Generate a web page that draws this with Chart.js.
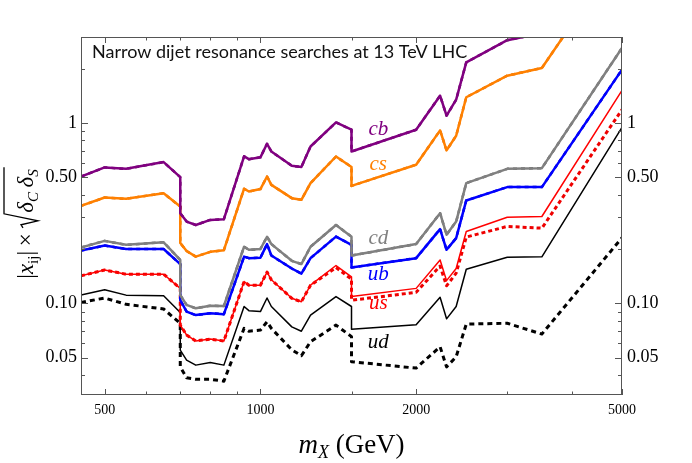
<!DOCTYPE html>
<html>
<head>
<meta charset="utf-8">
<script src="https://cdn.jsdelivr.net/npm/chart.js@4.4.0/dist/chart.umd.min.js"></script>
<style>
  body { margin: 0; background: #fff; }
  #wrap { width: 692px; height: 463px; }
</style>
</head>
<body>
<div id="wrap"><canvas id="chart" width="692" height="463"></canvas></div>
<script>
// masses (GeV) where the limit curves have their corners
const masses = [450, 500, 550, 650, 700, 700, 720, 750, 800, 850, 930, 950, 1000, 1030, 1050,
  1150, 1200, 1250, 1400, 1500, 1500, 2000, 2225, 2290, 2390, 2500, 3000, 3500, 5000];

// limits, one value per mass
const cb = [0.505, 0.567, 0.557, 0.607, 0.501, 0.316, 0.284, 0.272, 0.29, 0.293, 0.653, 0.63, 0.645, 0.767, 0.695,
  0.579, 0.57, 0.741, 1.008, 0.918, 0.695, 0.918, 1.418, 1.098, 1.347, 2.17, 2.88, 3.15, 14];
const cs = [0.347, 0.386, 0.38, 0.408, 0.344, 0.216, 0.195, 0.1815, 0.193, 0.197, 0.432, 0.417, 0.43, 0.505, 0.454,
  0.383, 0.375, 0.464, 0.652, 0.57, 0.448, 0.587, 0.91, 0.705, 0.85, 1.39, 1.83, 2.02, 9.0];
const cd = [0.204, 0.222, 0.211, 0.218, 0.174, 0.111, 0.098, 0.0938, 0.097, 0.0966, 0.206, 0.198, 0.2, 0.234, 0.213,
  0.172, 0.165, 0.206, 0.272, 0.234, 0.184, 0.213, 0.316, 0.24, 0.284, 0.464, 0.557, 0.562, 2.61];
const ub = [0.196, 0.209, 0.2, 0.2, 0.165, 0.104, 0.0899, 0.086, 0.088, 0.087, 0.1815, 0.178, 0.179, 0.213, 0.184,
  0.156, 0.146, 0.178, 0.2344, 0.211, 0.158, 0.178, 0.258, 0.198, 0.23, 0.372, 0.441, 0.441, 1.977];
const usSolid = [0.142, 0.153, 0.145, 0.145, 0.121, 0.0757, 0.0667, 0.0618, 0.0633, 0.0618, 0.132, 0.126, 0.126, 0.149, 0.135,
  0.1066, 0.102, 0.126, 0.162, 0.14, 0.109, 0.121, 0.174, 0.1336, 0.156, 0.25, 0.3, 0.303, 1.517];
const usDashed = [0.142, 0.153, 0.145, 0.145, 0.121, 0.0757, 0.0667, 0.0618, 0.0633, 0.0618, 0.132, 0.126, 0.126, 0.149, 0.135,
  0.1066, 0.102, 0.126, 0.158, 0.136, 0.104, 0.115, 0.161, 0.125, 0.147, 0.233, 0.267, 0.261, 1.186];
const udSolid = [0.111, 0.119, 0.111, 0.11, 0.089, 0.055, 0.0484, 0.0454, 0.0469, 0.0454, 0.096, 0.091, 0.09, 0.107, 0.096,
  0.074, 0.07, 0.086, 0.109, 0.096, 0.0717, 0.076, 0.108, 0.082, 0.096, 0.1545, 0.18, 0.181, 0.945];
const udDashed = [0.101, 0.107, 0.0987, 0.093, 0.0774, 0.0444, 0.0386, 0.0379, 0.0379, 0.037, 0.0726, 0.07, 0.071, 0.079, 0.0726,
  0.0552, 0.0512, 0.0612, 0.0757, 0.0653, 0.0474, 0.0437, 0.0574, 0.0444, 0.0505, 0.0767, 0.0775, 0.0675, 0.231];

// axis ticks
const xTickVals = [500, 1000, 2000, 5000];
const xMinor = [600, 700, 800, 900, 1500, 3000, 4000];
const yTickVals = [0.05, 0.1, 0.5, 1];
const yTickText = ['0.05', '0.10', '0.50', '1'];
const yMinor = [0.04, 0.06, 0.07, 0.08, 0.09, 0.2, 0.3, 0.4, 0.6, 0.7, 0.8, 0.9, 2, 3];

// curve names, placed in data coordinates
const curveNames = ['cb', 'cs', 'cd', 'ub', 'us', 'ud'];
const nameColors = ['#800080', '#ff8000', '#808080', '#0000ff', '#ff0000', '#000000'];
const nameY = [0.918, 0.586, 0.23, 0.144, 0.0993, 0.0608];
const nameX = 1690;

const serif = '"Liberation Serif", "DejaVu Serif", serif';

function pts(arr) {
  return masses.map((m, i) => ({ x: m, y: arr[i] }));
}

function line(arr, color, width, dash) {
  return {
    data: pts(arr),
    borderColor: color,
    borderWidth: width,
    borderDash: dash || [],
    pointRadius: 0,
    showLine: true,
    tension: 0,
    borderJoinStyle: 'round',
    fill: false
  };
}

// inward frame ticks, frame, labels and axis titles
const decorations = {
  id: 'decorations',
  afterDatasetsDraw(chart) {
    const { ctx, chartArea: a, scales } = chart;
    ctx.save();
    ctx.strokeStyle = '#555';
    ctx.lineWidth = 1;
    ctx.strokeRect(a.left + 0.5, a.top + 0.5, a.right - a.left - 1, a.bottom - a.top - 1);

    const xTick = (v, len) => {
      const p = Math.round(scales.x.getPixelForValue(v)) + 0.5;
      ctx.beginPath();
      ctx.moveTo(p, a.bottom); ctx.lineTo(p, a.bottom - len);
      ctx.moveTo(p, a.top); ctx.lineTo(p, a.top + len);
      ctx.stroke();
    };
    const yTick = (v, len) => {
      const p = Math.round(scales.y.getPixelForValue(v)) + 0.5;
      ctx.beginPath();
      ctx.moveTo(a.left, p); ctx.lineTo(a.left + len, p);
      ctx.moveTo(a.right, p); ctx.lineTo(a.right - len, p);
      ctx.stroke();
    };
    xTickVals.forEach(v => xTick(v, 6));
    xMinor.forEach(v => xTick(v, 3.5));
    yTickVals.forEach(v => yTick(v, 7));
    yMinor.forEach(v => yTick(v, 4));

    // curve names
    ctx.font = 'italic 21px ' + serif;
    ctx.textAlign = 'center';
    ctx.textBaseline = 'middle';
    curveNames.forEach((t, i) => {
      ctx.fillStyle = nameColors[i];
      ctx.fillText(t, scales.x.getPixelForValue(nameX), scales.y.getPixelForValue(nameY[i]));
    });

    // title inside the frame
    const title = 'Narrow dijet resonance searches at 13 TeV LHC';
    let size = 18;
    ctx.font = size + 'px Lato, "Noto Sans", sans-serif';
    while (ctx.measureText(title).width > 380 && size > 10) {
      size -= 0.5;
      ctx.font = size + 'px Lato, "Noto Sans", sans-serif';
    }
    ctx.fillStyle = '#111';
    ctx.textAlign = 'left';
    ctx.textBaseline = 'alphabetic';
    ctx.fillText(title, a.left + 11, a.top + 21);
    ctx.restore();
  },
  afterDraw(chart) {
    const { ctx, chartArea: a } = chart;
    ctx.save();
    ctx.fillStyle = '#000';
    ctx.textBaseline = 'alphabetic';
    ctx.textAlign = 'left';

    // x title: m_X (GeV)
    const fBig = '27px ' + serif, fIt = 'italic 27px ' + serif, fSub = 'italic 18px ' + serif;
    ctx.font = fIt; const wm = ctx.measureText('m').width;
    ctx.font = fSub; const wX = ctx.measureText('X').width;
    ctx.font = fBig; const wr = ctx.measureText(' (GeV)').width;
    let x = (a.left + a.right) / 2 - (wm + wX + wr) / 2;
    const by = 453;
    ctx.font = fIt; ctx.fillText('m', x, by); x += wm;
    ctx.font = fSub; ctx.fillText('X', x, by + 5); x += wX;
    ctx.font = fBig; ctx.fillText(' (GeV)', x, by);

    // y title: |x_ij| × sqrt(δ_C δ_S), rotated
    const f = '23px ' + serif, fi = 'italic 23px ' + serif, fs = '15px ' + serif, fsi = 'italic 15px ' + serif;
    const parts = [
      [f, '|', 0], [fi, 'x', 0], [fs, 'ij', 5], [f, '|', 0], [f, '\u2009\u00d7\u2009', 0],
      ['root', '', 0],
      [fi, '\u03b4', 0], [fsi, 'C', 5], [f, '\u2009', 0], [fi, '\u03b4', 0], [fsi, 'S', 5]
    ];
    const rootW = 16;
    let total = 0;
    const widths = parts.map(p => {
      if (p[0] === 'root') return rootW;
      ctx.font = p[0];
      return ctx.measureText(p[1]).width;
    });
    widths.forEach(w => total += w);
    ctx.translate(33, 224 + total / 2);
    ctx.rotate(-Math.PI / 2);
    let px = 0, rootStart = 0;
    parts.forEach((p, i) => {
      if (p[0] === 'root') {
        rootStart = px;
      } else {
        ctx.font = p[0];
        ctx.fillText(p[1], px, p[2]);
      }
      px += widths[i];
    });
    ctx.strokeStyle = '#000';
    ctx.lineWidth = 1.3;
    ctx.beginPath();
    ctx.moveTo(rootStart + 1, -10);
    ctx.lineTo(rootStart + 4, -12);
    ctx.lineTo(rootStart + 8, 5);
    ctx.lineTo(rootStart + 15, -29);
    ctx.lineTo(px + 2, -29);
    ctx.stroke();
    ctx.restore();
  }
};

const ctx = document.getElementById('chart').getContext('2d');
new Chart(ctx, {
  type: 'scatter',
  data: {
    datasets: [
      line(cb, '#800080', 2.5), line(cb, '#5e005e', 2.5, [4, 4]),
      line(cs, '#ff8000', 2.5), line(cs, '#d96a00', 2.5, [4, 4]),
      line(cd, '#808080', 2.5), line(cd, '#666666', 2.5, [4, 4]),
      line(ub, '#0000ff', 2.5), line(ub, '#0000b8', 2.5, [4, 4]),
      line(usSolid, '#ff0000', 1.5), line(usDashed, '#ee0000', 3, [4, 3]),
      line(udSolid, '#000000', 1.5), line(udDashed, '#000000', 3, [5, 4])
    ]
  },
  options: {
    responsive: false,
    devicePixelRatio: 1,
    animation: false,
    events: [],
    layout: { padding: { top: 37, left: 0, right: 0, bottom: 0 } },
    plugins: { legend: { display: false }, tooltip: { enabled: false } },
    scales: {
      x: {
        type: 'logarithmic',
        position: 'bottom',
        min: 450,
        max: 5000,
        grid: { display: false, drawTicks: false },
        border: { display: false },
        afterBuildTicks: axis => { axis.ticks = xTickVals.map(v => ({ value: v })); },
        afterFit: axis => { axis.height = 68; },
        ticks: {
          autoSkip: false,
          maxRotation: 0,
          padding: 7,
          color: '#000',
          font: { family: serif, size: 14 },
          callback: v => String(v)
        }
      },
      y: {
        type: 'logarithmic',
        position: 'left',
        min: 0.031,
        max: 3.0,
        grid: { display: false, drawTicks: false },
        border: { display: false },
        afterBuildTicks: axis => { axis.ticks = yTickVals.map(v => ({ value: v })); },
        afterFit: axis => { axis.width = 81; },
        ticks: {
          autoSkip: false,
          padding: 4,
          color: '#000',
          font: { family: serif, size: 18 },
          callback: v => yTickText[yTickVals.indexOf(v)]
        }
      },
      y2: {
        type: 'logarithmic',
        position: 'right',
        min: 0.031,
        max: 3.0,
        grid: { display: false, drawTicks: false },
        border: { display: false },
        afterBuildTicks: axis => { axis.ticks = yTickVals.map(v => ({ value: v })); },
        afterFit: axis => { axis.width = 70; },
        ticks: {
          autoSkip: false,
          padding: 5,
          color: '#000',
          font: { family: serif, size: 18 },
          callback: v => yTickText[yTickVals.indexOf(v)]
        }
      }
    }
  },
  plugins: [decorations]
});
</script>
</body>
</html>
